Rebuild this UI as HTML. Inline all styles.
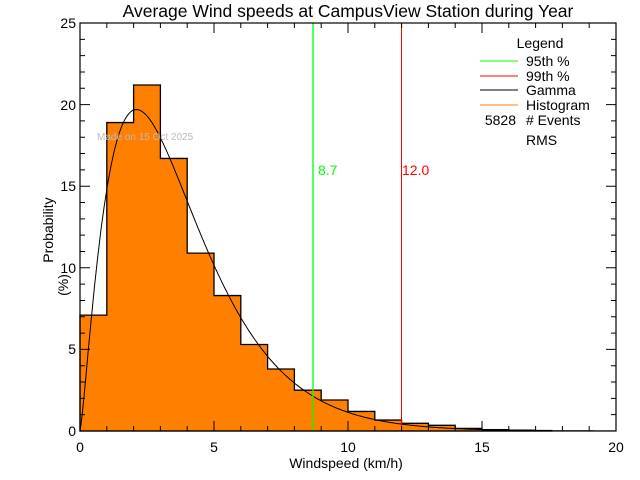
<!DOCTYPE html>
<html><head><meta charset="utf-8"><style>
body{margin:0;background:#fff}
svg{display:block;font-family:"Liberation Sans",sans-serif}
</style></head><body>
<svg id="s" width="640" height="480" xmlns="http://www.w3.org/2000/svg">
<rect width="640" height="480" fill="#fff"/>
<g id="hist"></g>
<path id="gam" fill="none" stroke="#000" stroke-width="1"/>
<line x1="313" y1="23" x2="313" y2="431" stroke="#00ff00" stroke-width="1.3"/>
<line x1="401.5" y1="23" x2="401.5" y2="431" stroke="#ff0000" stroke-width="1"/>
<text x="318" y="175" font-size="14" fill="#00ff00">8.7</text>
<text x="402" y="175" font-size="14" fill="#ff0000">12.0</text>
<text x="97" y="140" font-size="10" fill="#bbbbbb">Made on 15 Oct 2025</text>
<g id="ticks" stroke="#000" stroke-width="1"></g>
<rect x="80" y="23" width="536" height="408" fill="none" stroke="#000" stroke-width="1.2"/>
<g font-size="14" fill="#000">
<text x="348" y="17" text-anchor="middle" font-size="17.5">Average Wind speeds at CampusView Station during Year</text>
<text x="80" y="452" text-anchor="middle">0</text>
<text x="214" y="452" text-anchor="middle">5</text>
<text x="348" y="452" text-anchor="middle">10</text>
<text x="482" y="452" text-anchor="middle">15</text>
<text x="616" y="452" text-anchor="middle">20</text>
<text x="76" y="436" text-anchor="end">0</text>
<text x="76" y="354" text-anchor="end">5</text>
<text x="76" y="273" text-anchor="end">10</text>
<text x="76" y="191" text-anchor="end">15</text>
<text x="76" y="110" text-anchor="end">20</text>
<text x="76" y="28" text-anchor="end">25</text>
<text x="346" y="468" text-anchor="middle">Windspeed (km/h)</text>
<text transform="translate(53,230) rotate(-90)" text-anchor="middle">Probability</text>
<text transform="translate(68,285) rotate(-90)" text-anchor="middle">(%)</text>
<text x="540" y="48" text-anchor="middle">Legend</text>
<text x="526" y="66">95th %</text>
<text x="526" y="81">99th %</text>
<text x="526" y="95">Gamma</text>
<text x="526" y="110">Histogram</text>
<text x="516" y="125" text-anchor="end">5828</text>
<text x="526" y="125"># Events</text>
<text x="526" y="145">RMS</text>
</g>
<line x1="480" y1="61" x2="518" y2="61" stroke="#00ff00"/>
<line x1="480" y1="76" x2="518" y2="76" stroke="#ff0000"/>
<line x1="480" y1="90" x2="518" y2="90" stroke="#000"/>
<line x1="480" y1="105" x2="518" y2="105" stroke="#ff7f00"/>
</svg>
<script>
var X=function(v){return 80+v*26.8},Y=function(v){return 431-v*16.32};
var h=[7.1,18.9,21.2,16.7,10.9,8.3,5.3,3.8,2.5,1.9,1.2,0.67,0.47,0.35,0.16,0.08,0.05,0.03];
var g=document.getElementById('hist'),ns="http://www.w3.org/2000/svg";
var d="M80,431";
for(var i=0;i<h.length;i++){var w=(i==17?0.6:1);
d+=" L"+X(i)+","+Y(h[i])+" L"+X(i+w)+","+Y(h[i]);}
d+=" L"+X(17.6)+",431 Z";
var f0=document.createElementNS(ns,'path');f0.setAttribute('d',d);f0.setAttribute('fill','#ff7f00');g.appendChild(f0);
var p=document.createElementNS(ns,'path');p.setAttribute('d',d);p.setAttribute('fill','none');p.setAttribute('stroke','#000');p.setAttribute('stroke-width','1.3');g.appendChild(p);
var k=2.3,t=1.62,xm=(k-1)*t,fm=Math.pow(xm,k-1)*Math.exp(-xm/t),gd="";
for(var x=0;x<=20;x+=0.05){var f=19.7*Math.pow(x,k-1)*Math.exp(-x/t)/fm;gd+=(x==0?"M":" L")+X(x).toFixed(1)+","+Y(f).toFixed(1);}
document.getElementById('gam').setAttribute('d',gd);
var tk=document.getElementById('ticks'),td="";
for(var i=0;i<=20;i++){var L=i%5==0?10:5;td+="M"+X(i)+",431v-"+L+"M"+X(i)+",23v"+L;}
for(var i=0;i<=25;i++){var L=i%5==0?10:5;td+="M80,"+Y(i)+"h"+L+"M616,"+Y(i)+"h-"+L;}
var tp=document.createElementNS(ns,'path');tp.setAttribute('d',td);tk.appendChild(tp);
</script>
</body></html>
